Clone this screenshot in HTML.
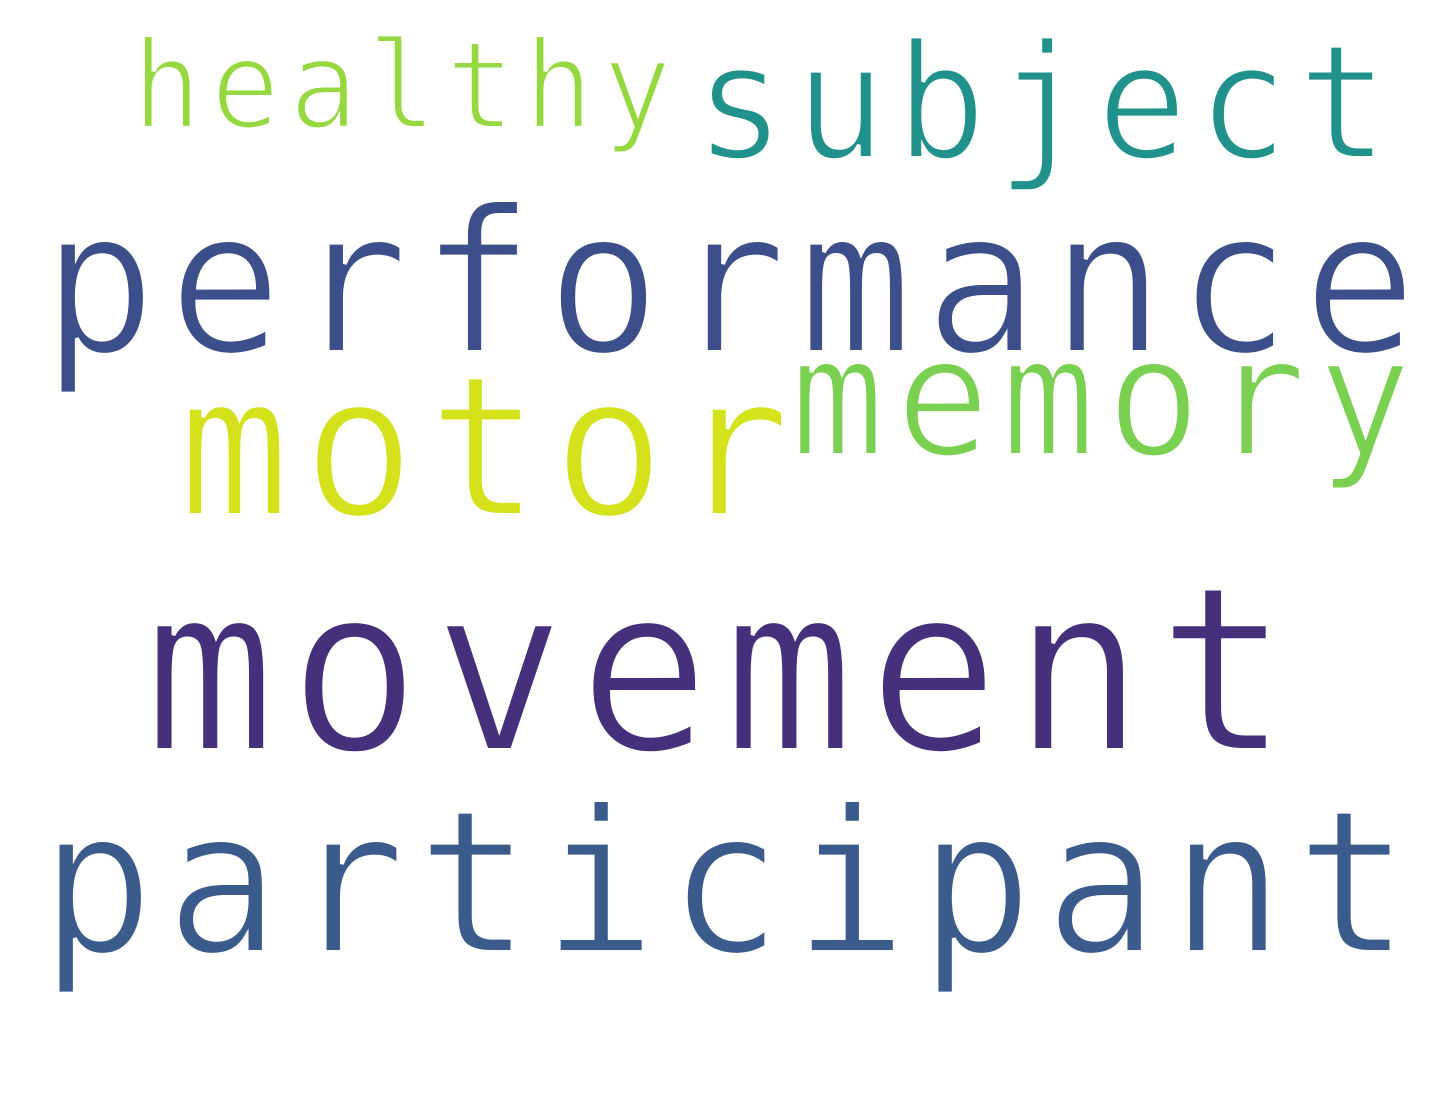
<!DOCTYPE html>
<html>
<head>
<meta charset="utf-8">
<style>
  html,body{margin:0;padding:0;background:#fff;}
  svg{display:block;}
  text{font-family:"DejaVu Sans Mono","Liberation Mono",monospace;}
</style>
</head>
<body>
<svg id="cloud" width="1455" height="1106" viewBox="0 0 1455 1106" xmlns="http://www.w3.org/2000/svg">
  <rect width="1455" height="1106" fill="#ffffff"></rect>
</svg>
<script>
const words = ["movement","performance","participant","motor","memory","subject","healthy"];
const weights = [230, 200, 200, 196, 166, 160, 122];
const colors = ["#46307c","#3d4f8a","#3a5b8c","#d3e21b","#7ad151","#21918c","#95d840"];
const anchorX = [144, 42, 40, 178, 790, 694, 132];
const anchorY = [750, 352, 952, 515, 455, 158, 128];
const extent = [1145, 1375, 1370, 612, 622, 695, 540];
const hScale = 0.95;

const svg = document.getElementById('cloud');
const NS = 'http://www.w3.org/2000/svg';
words.forEach((w, i) => {
  const t = document.createElementNS(NS, 'text');
  const fs = weights[i];
  t.setAttribute('x', anchorX[i]);
  t.setAttribute('y', anchorY[i]);
  t.setAttribute('font-size', fs);
  t.setAttribute('fill', colors[i]);
  t.setAttribute('stroke', '#ffffff');
  t.setAttribute('stroke-width', '4');
  t.setAttribute('transform', 'translate(' + anchorX[i] + ' 0) scale(' + hScale + ' 1) translate(' + (-anchorX[i]) + ' 0)');
  t.setAttribute('textLength', (extent[i] / hScale).toFixed(1));
  t.setAttribute('lengthAdjust', 'spacing');
  
  
  t.textContent = w;
  svg.appendChild(t);
});
</script>
</body>
</html>
